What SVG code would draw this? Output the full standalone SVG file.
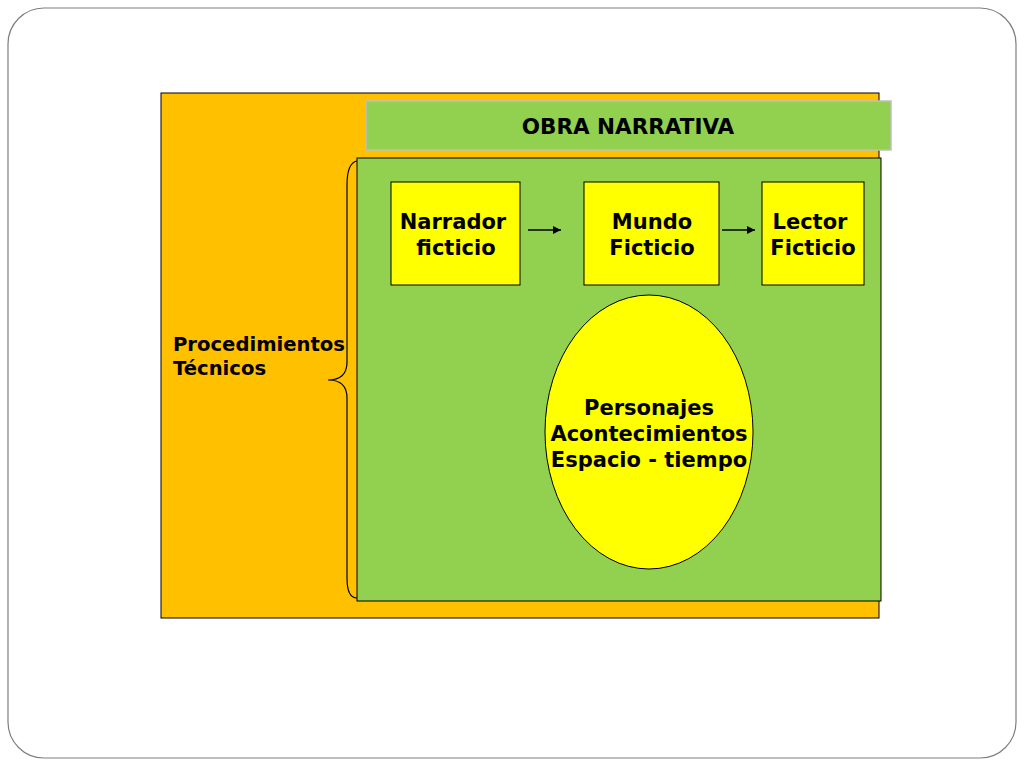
<svg xmlns="http://www.w3.org/2000/svg" width="1024" height="768" viewBox="0 0 1024 768">
<defs>
<style>
text{font-family:"DejaVu Sans","Liberation Sans",sans-serif;font-weight:bold;fill:#000}
.box{fill:#FFFF00;stroke:#000;stroke-width:1}
.lbl{font-size:21px;text-anchor:middle}
.conn{stroke:#000;stroke-width:1.3;fill:none;marker-end:url(#ah)}
</style>
<marker id="ah" viewBox="0 0 10 10" refX="10" refY="5" markerWidth="8" markerHeight="8" markerUnits="userSpaceOnUse" orient="auto">
<path d="M0,0 L10,5 L0,10 z" fill="#000"/>
</marker>
</defs>
<rect x="0" y="0" width="1024" height="768" fill="#fff"/>
<rect x="8" y="8" width="1008" height="750" rx="36" fill="#fff" stroke="#7F7F7F" stroke-width="1.2"/>
<g id="procedimientos">
<rect x="161" y="93" width="718" height="525" fill="#FFC000" stroke="#000" stroke-width="1"/>
<text x="173" y="351" font-size="19.6">Procedimientos</text>
<text x="173" y="375" font-size="19.6">Técnicos</text>
<path d="M357,161 Q347,163 347,185 L347,362 Q347,380 328,380 Q347,380 347,398 L347,578 Q347,598 357,598" fill="none" stroke="#000" stroke-width="1.2"/>
</g>
<g id="titulo">
<rect x="366" y="101" width="525" height="49" fill="#92D050" stroke="#BFBFBF" stroke-width="1.5"/>
<text x="628" y="134" font-size="21.5" text-anchor="middle">OBRA NARRATIVA</text>
</g>
<g id="obra">
<rect x="357" y="158" width="524" height="443" fill="#92D050" stroke="#000" stroke-width="1"/>
</g>
<g id="narrador">
<rect class="box" x="391" y="182" width="129" height="103"/>
<text class="lbl" x="453" y="229">Narrador</text>
<text class="lbl" x="456" y="255">ficticio</text>
</g>
<g id="mundo">
<rect class="box" x="584" y="182" width="135" height="103"/>
<text class="lbl" x="652" y="229">Mundo</text>
<text class="lbl" x="652" y="255">Ficticio</text>
</g>
<g id="lector">
<rect class="box" x="762" y="182" width="102" height="103"/>
<text class="lbl" x="810" y="229">Lector</text>
<text class="lbl" x="813" y="255">Ficticio</text>
</g>
<g id="elementos">
<ellipse class="box" cx="649" cy="432" rx="104" ry="137"/>
<text class="lbl" x="649" y="415">Personajes</text>
<text class="lbl" x="649" y="441">Acontecimientos</text>
<text class="lbl" x="649" y="467">Espacio - tiempo</text>
</g>
<g id="connectors">
<line class="conn" x1="528" y1="230" x2="561" y2="230"/>
<line class="conn" x1="722" y1="230" x2="755" y2="230"/>
</g>
</svg>
